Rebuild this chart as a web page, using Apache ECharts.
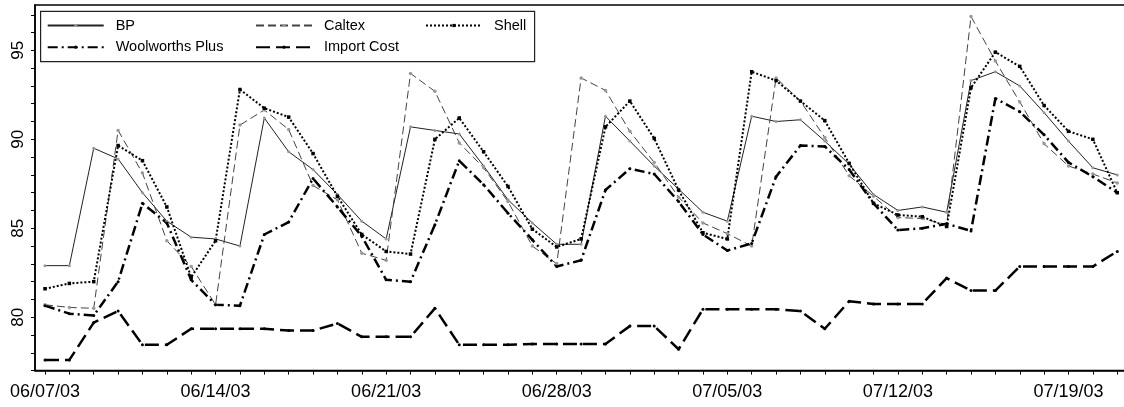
<!DOCTYPE html>
<html>
<head>
<meta charset="utf-8">
<script src="https://cdn.jsdelivr.net/npm/echarts@6/dist/echarts.min.js"></script>
<style>
html,body{margin:0;padding:0;background:#fff;}
#chart{width:1124px;height:407px;}
</style>
</head>
<body>
<div id="chart"></div>
<script>
// Dates (one per day, 06/07/03 .. 07/21/03)
var dates = ['06/07/03','06/08/03','06/09/03','06/10/03','06/11/03','06/12/03','06/13/03',
  '06/14/03','06/15/03','06/16/03','06/17/03','06/18/03','06/19/03','06/20/03',
  '06/21/03','06/22/03','06/23/03','06/24/03','06/25/03','06/26/03','06/27/03',
  '06/28/03','06/29/03','06/30/03','07/01/03','07/02/03','07/03/03','07/04/03',
  '07/05/03','07/06/03','07/07/03','07/08/03','07/09/03','07/10/03','07/11/03',
  '07/12/03','07/13/03','07/14/03','07/15/03','07/16/03','07/17/03','07/18/03',
  '07/19/03','07/20/03','07/21/03'];
// Labelled x ticks (indices into dates)
var xLabelIdx = [0, 7, 14, 21, 28, 35, 42];
var yLabels = [80, 85, 90, 95];
var yTicks = [77,78,79,80,81,82,83,84,85,86,87,88,89,90,91,92,93,94,95,96,97];

var bp = [82.9,82.9,89.5,88.9,87.0,85.4,84.5,84.4,84.0,91.2,89.3,88.3,86.9,85.4,84.4,90.7,90.5,90.3,88.5,86.6,85.3,84.1,84.1,91.3,89.9,88.5,87.2,85.9,85.4,91.3,91.0,91.1,89.9,88.6,86.9,86.0,86.2,85.9,93.3,93.8,93.0,91.5,89.9,88.4,88.0];
var caltex = [80.7,80.55,80.5,90.5,88.1,84.3,82.85,80.7,90.8,91.65,90.55,87.4,86.6,83.6,83.2,93.7,92.7,89.8,88.4,86.5,84.0,83.0,93.45,92.75,90.45,88.7,86.75,85.3,84.7,84.0,93.45,92.15,90.1,87.95,86.8,85.6,85.55,85.2,96.9,94.4,92.1,89.75,88.5,88.05,87.55];
var shell = [81.6,81.9,82.0,89.65,88.8,86.2,82.25,84.3,92.8,91.75,91.25,89.2,86.8,84.65,83.7,83.55,90.0,91.2,89.3,87.35,84.95,83.95,84.4,90.7,92.15,90.05,87.15,84.75,84.4,93.8,93.3,92.15,91.05,88.65,86.4,85.75,85.65,85.1,92.9,94.9,94.1,91.9,90.45,90.0,87.0];
var woolworths = [80.65,80.2,80.1,82.0,86.4,85.3,82.1,80.7,80.65,84.65,85.35,87.8,86.2,84.55,82.1,82.0,85.2,88.8,87.45,85.85,84.35,82.85,83.2,87.15,88.35,88.05,86.5,84.65,83.75,84.15,87.9,89.65,89.6,88.3,86.4,84.9,85.0,85.25,84.85,92.3,91.55,90.25,88.7,87.9,87.0];
var importCost = [77.6,77.6,79.7,80.35,78.45,78.45,79.35,79.35,79.35,79.35,79.25,79.25,79.65,78.9,78.9,78.9,80.5,78.45,78.45,78.45,78.5,78.5,78.5,78.5,79.5,79.5,78.2,80.45,80.45,80.45,80.45,80.35,79.35,80.9,80.75,80.75,80.75,82.2,81.5,81.5,82.85,82.85,82.85,82.85,83.7];

function pairs(arr){ return arr.map(function(v,i){ return [i, v]; }); }
var dayIdx = dates.map(function(d,i){ return i; });

var FONT = 'Liberation Sans, Arial, sans-serif';

function mk(name, data, lineStyle, symbol, symColor, symSize){
  return {
    name: name, type: 'line', data: pairs(data),
    symbol: symbol, symbolSize: symSize, showSymbol: true,
    lineStyle: lineStyle,
    itemStyle: {color: symColor, borderWidth: 0},
    emphasis: {disabled: true},
    animation: false, z: 3
  };
}

var legendCommon = {
  orient: 'vertical', top: 18, padding: 0, itemGap: 6.7,
  itemWidth: 56, itemHeight: 4,
  textStyle: {fontFamily: FONT, fontSize: 14.5, color: '#000', lineHeight: 15, padding: [0,0,0,7]},
  selectedMode: false
};

var chart = echarts.init(document.getElementById('chart'), null, {renderer: 'canvas'});
chart.setOption({
  animation: false,
  backgroundColor: '#fff',
  grid: {left: 35, right: -2, top: 5, bottom: 36.4, show: true, borderColor: '#000', borderWidth: 1.5, outerBoundsMode: 'none'},
  legend: [
    Object.assign({}, legendCommon, {left: 46.7, data: ['BP', 'Woolworths Plus']}),
    Object.assign({}, legendCommon, {left: 255, data: ['Caltex', 'Import Cost']}),
    Object.assign({}, legendCommon, {left: 425, data: ['Shell']})
  ],
  graphic: [{
    type: 'rect', left: 40, top: 10.7, z: 100,
    shape: {width: 494, height: 50.3},
    style: {fill: 'rgba(0,0,0,0)', stroke: '#222', lineWidth: 1.2}
  }],
  xAxis: {
    type: 'value', min: -0.41, max: 44.36,
    splitLine: {show: false},
    axisLine: {show: true, onZero: false, lineStyle: {color: '#000', width: 1.5}},
    axisTick: {show: true, inside: false, length: 4, customValues: dayIdx, lineStyle: {color: '#000', width: 1}},
    axisLabel: {
      customValues: xLabelIdx, margin: 12,
      fontFamily: FONT, fontSize: 18, color: '#000',
      formatter: function(v){ return dates[Math.round(v)]; }
    }
  },
  yAxis: {
    type: 'value', min: 77, max: 97.55,
    splitLine: {show: false},
    axisLine: {show: true, onZero: false, lineStyle: {color: '#000', width: 1.5}},
    axisTick: {show: true, inside: false, length: 4, customValues: yTicks, lineStyle: {color: '#000', width: 1}},
    axisLabel: {
      customValues: yLabels, rotate: 90, margin: 8,
      fontFamily: FONT, fontSize: 17, color: '#000'
    }
  },
  series: [
    mk('BP', bp, {color: '#222', width: 1, type: 'solid'}, 'circle', '#999', 3),
    mk('Caltex', caltex, {color: '#444', width: 1, type: [8, 4]}, 'circle', '#999', 3.5),
    mk('Shell', shell, {color: '#000', width: 2, type: [2, 2]}, 'rect', '#000', 3.5),
    mk('Woolworths Plus', woolworths, {color: '#000', width: 2.5, type: [10, 4, 2, 4]}, 'circle', '#000', 3),
    mk('Import Cost', importCost, {color: '#000', width: 2.5, type: [14, 6]}, 'circle', '#000', 3)
  ]
});
</script>
</body>
</html>
